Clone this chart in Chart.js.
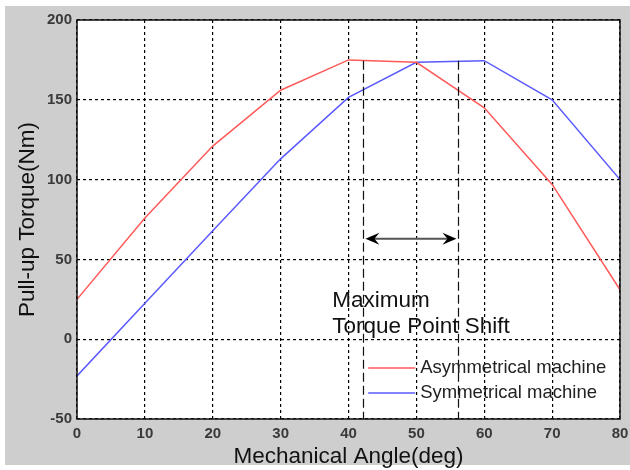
<html>
<head>
<title>Pull-up Torque vs Mechanical Angle</title>
<script src="https://cdn.jsdelivr.net/npm/chart.js@4/dist/chart.umd.min.js"></script>
<style>
  body { margin: 0; background: #fff; }
  #wrap { position: relative; width: 630px; height: 470px; }
</style>
</head>
<body>
<div id="wrap"><canvas id="torqueChart"></canvas></div>
<script>
var angles = [0, 10, 20, 30, 40, 50, 60, 70, 80];
var asymTorque = [25, 76, 121, 156, 175, 173.5, 145, 97, 31];
var symTorque = [-23, 22.5, 68, 113, 151.5, 173.5, 174.5, 150, 100];

var seriesNames = ['Asymmetrical machine', 'Symmetrical machine'];
var seriesColors = ['#ff5a5a', '#5a5aff'];

// the two vertical marker lines and the arrow between them
var shiftFrom = 42.2;
var shiftTo = 56.2;
var shiftTop = 174.5;
var arrowLevel = 63;
var noteLines = ['Maximum', 'Torque Point Shift'];
var noteAt = [37.6, 24]; // angle, torque of first line

function toPoints(ys) {
    return angles.map(function(a, i) { return { x: a, y: ys[i] }; });
}

var decor = {
    id: 'decor',
    beforeDraw: function(chart) {
        var ctx = chart.ctx, a = chart.chartArea;
        ctx.save();
        ctx.fillStyle = '#ffffff';
        ctx.fillRect(0, 0, chart.width, chart.height);
        ctx.fillStyle = '#cecece';
        ctx.fillRect(5, 6, chart.width - 5, chart.height - 11);
        ctx.fillStyle = '#ffffff';
        ctx.fillRect(a.left, a.top, a.right - a.left, a.bottom - a.top);
        ctx.restore();
    },
    afterDatasetsDraw: function(chart) {
        var ctx = chart.ctx, a = chart.chartArea;
        var xs = chart.scales.x, ys = chart.scales.y;
        ctx.save();

        // marker lines
        ctx.strokeStyle = '#111';
        ctx.lineWidth = 1.2;
        ctx.setLineDash([9, 4]);
        [shiftFrom, shiftTo].forEach(function(v) {
            var px = Math.round(xs.getPixelForValue(v)) + 0.5;
            ctx.beginPath();
            ctx.moveTo(px, ys.getPixelForValue(shiftTop));
            ctx.lineTo(px, a.bottom);
            ctx.stroke();
        });
        ctx.setLineDash([]);

        // double arrow
        var x1 = xs.getPixelForValue(shiftFrom) + 2;
        var x2 = xs.getPixelForValue(shiftTo) - 2;
        var yA = ys.getPixelForValue(arrowLevel);
        ctx.strokeStyle = '#555';
        ctx.lineWidth = 2;
        ctx.beginPath();
        ctx.moveTo(x1 + 8, yA);
        ctx.lineTo(x2 - 8, yA);
        ctx.stroke();
        ctx.fillStyle = '#000';
        ctx.beginPath();
        ctx.moveTo(x1, yA);
        ctx.lineTo(x1 + 14, yA - 6);
        ctx.lineTo(x1 + 9, yA);
        ctx.lineTo(x1 + 14, yA + 6);
        ctx.closePath();
        ctx.fill();
        ctx.beginPath();
        ctx.moveTo(x2, yA);
        ctx.lineTo(x2 - 14, yA - 6);
        ctx.lineTo(x2 - 9, yA);
        ctx.lineTo(x2 - 14, yA + 6);
        ctx.closePath();
        ctx.fill();

        // note text
        ctx.fillStyle = '#111';
        ctx.font = '22.5px "Liberation Sans", Arial, sans-serif';
        ctx.textBaseline = 'middle';
        ctx.textAlign = 'left';
        var nx = xs.getPixelForValue(noteAt[0]);
        var ny = ys.getPixelForValue(noteAt[1]);
        noteLines.forEach(function(t, i) {
            ctx.fillText(t, nx, ny + i * 26);
        });

        // legend inside the plot
        ctx.font = '18.5px "Liberation Sans", Arial, sans-serif';
        var lx = xs.getPixelForValue(42.9), ly = ys.getPixelForValue(-18);
        seriesNames.forEach(function(name, i) {
            var yy = ly + i * 25;
            ctx.strokeStyle = seriesColors[i];
            ctx.lineWidth = 1.5;
            ctx.beginPath();
            ctx.moveTo(lx, yy);
            ctx.lineTo(lx + 47, yy);
            ctx.stroke();
            ctx.fillStyle = '#222';
            ctx.fillText(name, lx + 52, yy);
        });

        // frame
        ctx.strokeStyle = '#111';
        ctx.lineWidth = 1.5;
        ctx.strokeRect(a.left, a.top, a.right - a.left, a.bottom - a.top);
        ctx.restore();
    }
};

var tickFont = { size: 15, weight: 'bold', family: '"Liberation Sans", Arial' };
var titleFont = { size: 22.5, family: '"Liberation Sans", Arial' };

new Chart(document.getElementById('torqueChart'), {
    type: 'line',
    data: {
        datasets: [{
            label: seriesNames[0],
            data: toPoints(asymTorque),
            borderColor: seriesColors[0],
            borderWidth: 1.5,
            pointRadius: 0,
            tension: 0
        }, {
            label: seriesNames[1],
            data: toPoints(symTorque),
            borderColor: seriesColors[1],
            borderWidth: 1.5,
            pointRadius: 0,
            tension: 0
        }]
    },
    options: {
        responsive: true,
        maintainAspectRatio: false,
        animation: false,
        layout: { padding: { left: 0, top: 20, right: 10, bottom: 0 } },
        plugins: { legend: { display: false }, tooltip: { enabled: false } },
        scales: {
            x: {
                type: 'linear',
                min: 0, max: 80,
                afterFit: function(s) { s.height = 51; s.paddingLeft = 0; s.paddingRight = 0; },
                ticks: { stepSize: 10, padding: 6, color: '#3a3a3a', font: tickFont },
                grid: { color: '#000', lineWidth: 1.2, drawTicks: false },
                border: { display: false, dash: [3, 3] },
                title: { display: true, text: 'Mechanical Angle(deg)', color: '#111', font: titleFont, padding: { top: 0, bottom: 0 } }
            },
            y: {
                min: -50, max: 200,
                afterFit: function(s) { s.width = 77; },
                ticks: { stepSize: 50, padding: 5, color: '#3a3a3a', font: tickFont },
                grid: { color: '#000', lineWidth: 1.2, drawTicks: false },
                border: { display: false, dash: [3, 3] },
                title: { display: true, text: 'Pull-up Torque(Nm)', color: '#111', font: titleFont, padding: { top: 14, bottom: 0 } }
            }
        }
    },
    plugins: [decor]
});
</script>
</body>
</html>
